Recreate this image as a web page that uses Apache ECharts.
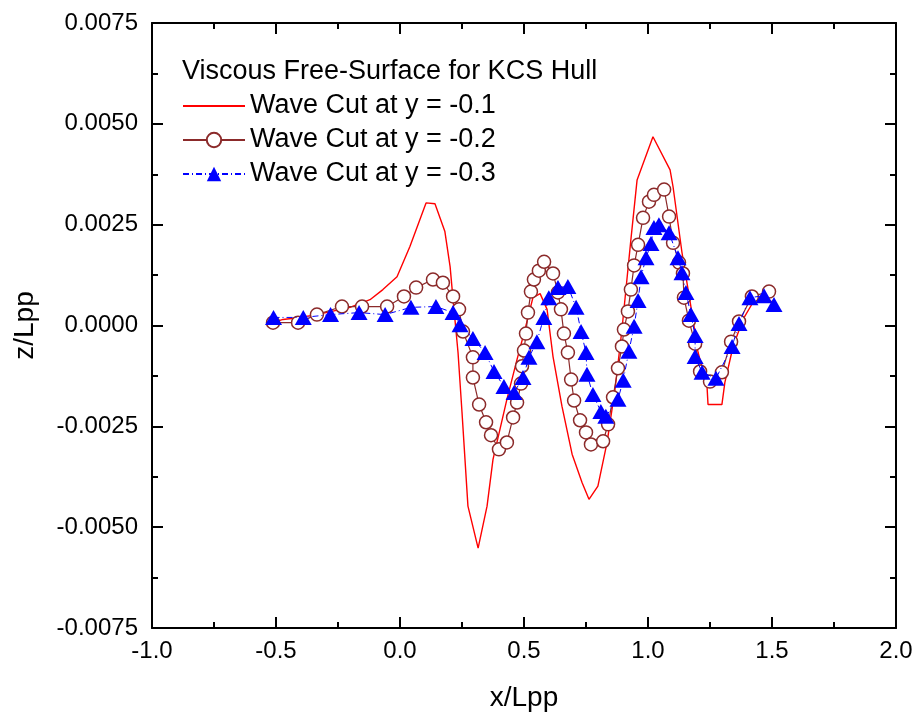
<!DOCTYPE html>
<html>
<head>
<meta charset="utf-8">
<script src="https://cdn.jsdelivr.net/npm/echarts@6/dist/echarts.min.js"></script>
<style>
  html, body { margin: 0; padding: 0; background: #fff; }
  #chart { width: 917px; height: 717px; }
</style>
</head>
<body>
<div id="chart"></div>
<script>
// Wave cut at y = -0.1 (solid red line)
const cut1X = [-0.512, -0.472, -0.403, -0.335, -0.202, -0.121, -0.069, -0.012, 0.040, 0.105, 0.141, 0.181, 0.202, 0.214, 0.234, 0.250, 0.274, 0.315, 0.351, 0.375, 0.431, 0.472, 0.504, 0.536, 0.565, 0.593, 0.617, 0.653, 0.694, 0.734, 0.762, 0.798, 0.835, 0.867, 0.895, 0.915, 0.931, 0.956, 1.020, 1.089, 1.101, 1.137, 1.177, 1.202, 1.238, 1.242, 1.298, 1.310, 1.343, 1.383, 1.423, 1.464, 1.504];
const cut1Z = [0.00007, 0.00015, 0.00020, 0.00027, 0.00045, 0.00064, 0.00089, 0.00121, 0.00196, 0.00304, 0.00302, 0.00233, 0.00146, 0.00064, -0.00067, -0.00215, -0.00448, -0.00552, -0.00448, -0.00332, -0.00183, -0.00084, -0.00010, 0.00069, 0.00079, 0.00040, -0.00077, -0.00200, -0.00319, -0.00389, -0.00431, -0.00398, -0.00290, -0.00158, -0.00010, 0.00114, 0.00213, 0.00361, 0.00468, 0.00386, 0.00344, 0.00181, 0.00032, -0.00067, -0.00151, -0.00196, -0.00196, -0.00141, -0.00052, 0.00015, 0.00057, 0.00072, 0.00057];

// Wave cut at y = -0.2 (open circles)
const cut2X = [-0.512, -0.411, -0.335, -0.234, -0.153, -0.052, 0.016, 0.065, 0.133, 0.173, 0.214, 0.238, 0.254, 0.294, 0.294, 0.319, 0.347, 0.367, 0.399, 0.431, 0.456, 0.472, 0.488, 0.492, 0.500, 0.508, 0.516, 0.528, 0.540, 0.560, 0.581, 0.617, 0.637, 0.649, 0.661, 0.677, 0.690, 0.702, 0.726, 0.750, 0.770, 0.819, 0.839, 0.859, 0.879, 0.895, 0.903, 0.919, 0.931, 0.944, 0.960, 0.980, 1.004, 1.024, 1.065, 1.085, 1.101, 1.125, 1.141, 1.145, 1.165, 1.190, 1.210, 1.250, 1.298, 1.335, 1.367, 1.419, 1.488];
const cut2Z = [0.00007, 0.00007, 0.00027, 0.00047, 0.00047, 0.00047, 0.00072, 0.00094, 0.00114, 0.00106, 0.00072, 0.00040, -0.00015, -0.00079, -0.00129, -0.00196, -0.00240, -0.00272, -0.00307, -0.00290, -0.00228, -0.00191, -0.00144, -0.00101, -0.00062, -0.00020, 0.00032, 0.00084, 0.00114, 0.00136, 0.00158, 0.00129, 0.00082, 0.00040, -0.00020, -0.00067, -0.00134, -0.00186, -0.00235, -0.00265, -0.00295, -0.00287, -0.00245, -0.00178, -0.00106, -0.00052, -0.00010, 0.00035, 0.00089, 0.00149, 0.00200, 0.00267, 0.00307, 0.00324, 0.00337, 0.00270, 0.00205, 0.00156, 0.00129, 0.00069, 0.00012, -0.00045, -0.00114, -0.00139, -0.00116, -0.00040, 0.00010, 0.00072, 0.00084];

// Wave cut at y = -0.3 (filled triangles)
const cut3X = [-0.510, -0.390, -0.280, -0.165, -0.060, 0.044, 0.145, 0.214, 0.242, 0.294, 0.343, 0.379, 0.419, 0.460, 0.496, 0.520, 0.552, 0.580, 0.600, 0.637, 0.677, 0.710, 0.730, 0.750, 0.754, 0.778, 0.810, 0.830, 0.879, 0.900, 0.923, 0.944, 0.960, 0.972, 0.992, 1.012, 1.024, 1.044, 1.085, 1.121, 1.137, 1.153, 1.173, 1.190, 1.190, 1.218, 1.274, 1.339, 1.367, 1.411, 1.468, 1.508];
const cut3Z = [0.00020, 0.00020, 0.00027, 0.00032, 0.00027, 0.00045, 0.00047, 0.00032, 0.00002, -0.00032, -0.00067, -0.00114, -0.00151, -0.00166, -0.00129, -0.00079, -0.00040, 0.00020, 0.00069, 0.00094, 0.00097, 0.00045, -0.00015, -0.00067, -0.00121, -0.00171, -0.00213, -0.00225, -0.00183, -0.00136, -0.00064, -0.00002, 0.00062, 0.00121, 0.00168, 0.00203, 0.00243, 0.00250, 0.00230, 0.00168, 0.00131, 0.00082, 0.00027, -0.00025, -0.00077, -0.00116, -0.00131, -0.00052, 0.00005, 0.00069, 0.00074, 0.00052];

const seriesNames = ['Wave Cut at y = -0.1', 'Wave Cut at y = -0.2', 'Wave Cut at y = -0.3'];
const legendTitle = 'Viscous Free-Surface for KCS Hull';
const xTicks = { min: -1.0, max: 2.0, step: 0.5 };
const yTicks = { min: -0.0075, max: 0.0075, step: 0.0025 };

const FONT = '"Liberation Sans", Arial, sans-serif';
const pairs = (xs, ys) => xs.map((x, i) => [x, ys[i]]);

const axisCommon = {
  axisLine: { show: true, onZero: false, lineStyle: { color: '#000', width: 2 } },
  axisTick: { show: true, inside: true, length: 11, lineStyle: { color: '#000', width: 2 } },
  minorTick: { show: true, splitNumber: 2, length: 6, lineStyle: { color: '#000', width: 2 } },
  splitLine: { show: false },
  minorSplitLine: { show: false }
};

const chart = echarts.init(document.getElementById('chart'), null, { renderer: 'canvas' });
chart.setOption({
  backgroundColor: '#fff',
  animation: false,
  grid: { left: 152, right: 21, top: 23, bottom: 88, containLabel: false },
  title: {
    text: legendTitle,
    left: 177, top: 52,
    textStyle: { fontFamily: FONT, fontSize: 27, fontWeight: 'normal', color: '#000', lineHeight: 30 }
  },
  legend: {
    data: [
      { name: seriesNames[0], itemStyle: { opacity: 0 } },
      { name: seriesNames[1] },
      { name: seriesNames[2] }
    ],
    orient: 'vertical',
    left: 177, top: 86,
    itemWidth: 62, itemHeight: 18, itemGap: 4,
    textStyle: { fontFamily: FONT, fontSize: 27, color: '#000', lineHeight: 30 }
  },
  xAxis: [
    Object.assign({
      type: 'value', position: 'bottom',
      min: xTicks.min, max: xTicks.max, interval: xTicks.step,
      name: 'x/Lpp', nameLocation: 'middle', nameGap: 56,
      nameTextStyle: { fontFamily: FONT, fontSize: 28, color: '#000' },
      axisLabel: { fontFamily: FONT, fontSize: 24, color: '#000', margin: 11,
        formatter: v => v.toFixed(1) }
    }, axisCommon),
    Object.assign({
      type: 'value', position: 'top',
      min: xTicks.min, max: xTicks.max, interval: xTicks.step,
      axisLabel: { show: false }
    }, axisCommon)
  ],
  yAxis: [
    Object.assign({
      type: 'value', position: 'left',
      min: yTicks.min, max: yTicks.max, interval: yTicks.step,
      name: 'z/Lpp', nameLocation: 'middle', nameGap: 113,
      nameTextStyle: { fontFamily: FONT, fontSize: 28, color: '#000' },
      axisLabel: { fontFamily: FONT, fontSize: 24, color: '#000', margin: 14,
        formatter: v => v.toFixed(4) }
    }, axisCommon),
    Object.assign({
      type: 'value', position: 'right',
      min: yTicks.min, max: yTicks.max, interval: yTicks.step,
      axisLabel: { show: false }
    }, axisCommon)
  ],
  series: [
    {
      name: seriesNames[0], type: 'line',
      data: pairs(cut1X, cut1Z),
      symbol: 'none', showSymbol: false,
      lineStyle: { color: '#ff0000', width: 1.4 },
      itemStyle: { color: '#ff0000' },
      z: 2
    },
    {
      name: seriesNames[1], type: 'line',
      data: pairs(cut2X, cut2Z),
      symbol: 'circle', symbolSize: 13, showSymbol: true,
      lineStyle: { color: '#8b2a2a', width: 1.2 },
      itemStyle: { color: '#ffffff', borderColor: '#8b2a2a', borderWidth: 1.5 },
      z: 3
    },
    {
      name: seriesNames[2], type: 'line',
      data: pairs(cut3X, cut3Z),
      symbol: 'triangle', symbolSize: [17, 15], showSymbol: true,
      lineStyle: { color: '#0000ff', width: 1, type: [6, 3, 1, 3] },
      itemStyle: { color: '#0000ff', borderWidth: 0 },
      z: 4
    }
  ]
});
</script>
</body>
</html>
